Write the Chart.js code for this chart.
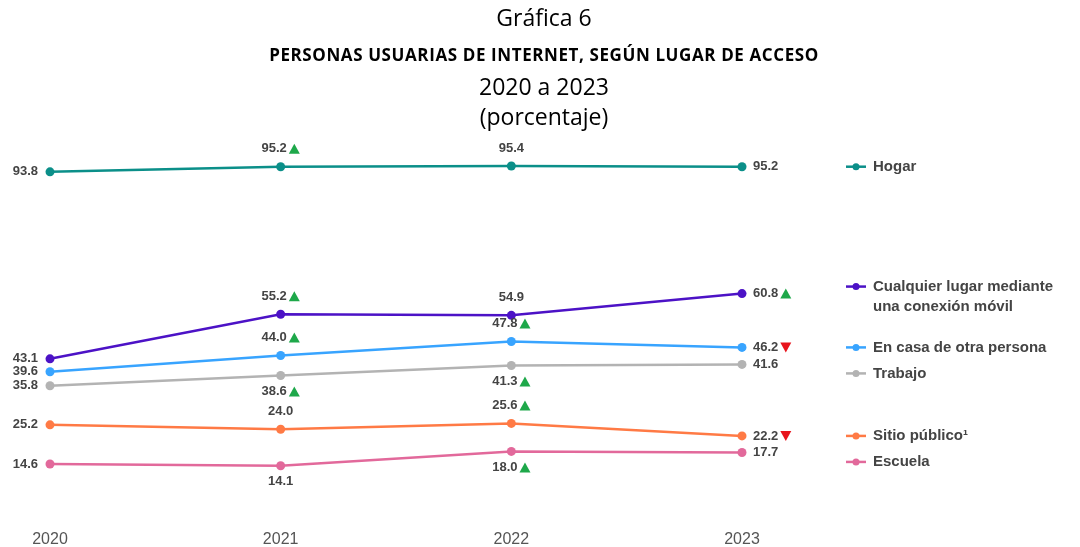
<!DOCTYPE html>
<html>
<head>
<meta charset="utf-8">
<script src="https://cdn.jsdelivr.net/npm/chart.js@4.4.0/dist/chart.umd.min.js"></script>
<style>
  body { margin: 0; background: #fff; }
  #wrap { position: relative; width: 1080px; height: 547px; overflow: hidden; }
  canvas { position: absolute; left: 0; top: 0; }
  .t { position: absolute; left: 0; width: 1088px; text-align: center; color: #000;
       font-family: "Open Sans", Lato, sans-serif; line-height: 1; white-space: nowrap; }
</style>
</head>
<body>
<div id="wrap">
  <canvas id="chart" width="1080" height="561"></canvas>
  <div class="t" style="top:6px;font-size:23px;">Gráfica 6</div>
  <div class="t" style="top:46px;font-size:17px;font-weight:bold;letter-spacing:0.6px;">PERSONAS USUARIAS DE INTERNET, SEGÚN LUGAR DE ACCESO</div>
  <div class="t" style="top:75px;font-size:23px;">2020 a 2023</div>
  <div class="t" style="top:105px;font-size:23px;">(porcentaje)</div>
</div>
<script>
const years = ["2020", "2021", "2022", "2023"];
const seriesNames = [
  "Hogar",
  ["Cualquier lugar mediante", "una conexión móvil"],
  "En casa de otra persona",
  "Trabajo",
  "Sitio público¹",
  "Escuela",
];
const hogar = [93.8, 95.2, 95.4, 95.2];
const movil = [43.1, 55.2, 54.9, 60.8];
const otraCasa = [39.6, 44.0, 47.8, 46.2];
const trabajo = [35.8, 38.6, 41.3, 41.6];
const sitioPublico = [25.2, 24.0, 25.6, 22.2];
const escuela = [14.6, 14.1, 18.0, 17.7];
// change vs previous year: up / down / none
const trends = [
  ["", "up", "", ""],
  ["", "up", "", "up"],
  ["", "up", "up", "down"],
  ["", "up", "up", ""],
  ["", "", "up", "down"],
  ["", "", "up", ""],
];
// where each value label goes
const labelSides = [
  ["left", "above", "above", "right"],
  ["left", "above", "above", "right"],
  ["left", "above", "above", "right"],
  ["left", "below", "below", "right"],
  ["left", "above", "above", "right"],
  ["left", "below", "below", "right"],
];

const colors = ["#0b8f89", "#4c12c6", "#38a4ff", "#b3b3b3", "#ff7a45", "#e2699b"];
const allData = [hogar, movil, otraCasa, trabajo, sitioPublico, escuela];

const labelFont = 'bold 13px "Liberation Sans", Arial, sans-serif';
const legendFont = 'bold 15px "Liberation Sans", Arial, sans-serif';

function drawTri(ctx, x, y, dir) {
  ctx.beginPath();
  if (dir === "up") {
    ctx.fillStyle = "#1ea84a";
    ctx.moveTo(x, y + 5);
    ctx.lineTo(x + 11, y + 5);
    ctx.lineTo(x + 5.5, y - 5);
  } else {
    ctx.fillStyle = "#e8141c";
    ctx.moveTo(x, y - 5);
    ctx.lineTo(x + 11, y - 5);
    ctx.lineTo(x + 5.5, y + 5);
  }
  ctx.closePath();
  ctx.fill();
}

const valueLabels = {
  id: "valueLabels",
  afterDatasetsDraw(chart) {
    const ctx = chart.ctx;
    ctx.save();
    ctx.font = labelFont;
    ctx.textBaseline = "middle";
    chart.data.datasets.forEach((ds, i) => {
      chart.getDatasetMeta(i).data.forEach((pt, j) => {
        const txt = ds.data[j].toFixed(1);
        const mark = trends[i][j];
        const side = labelSides[i][j];
        const w = ctx.measureText(txt).width;
        const full = w + (mark ? 13 : 0);
        let x, y;
        if (side === "left") {
          x = pt.x - 12 - full;
          y = pt.y;
        } else if (side === "right") {
          x = pt.x + 11;
          y = pt.y;
        } else {
          x = pt.x - full / 2;
          y = side === "above" ? pt.y - 18 : pt.y + 16;
        }
        ctx.fillStyle = "#444";
        ctx.textAlign = "left";
        ctx.fillText(txt, x, y);
        if (mark) drawTri(ctx, x + w + 2, y, mark);
      });
    });
    ctx.restore();
  },
};

const sideLegend = {
  id: "sideLegend",
  afterDraw(chart) {
    const ctx = chart.ctx;
    const yScale = chart.scales.y;
    ctx.save();
    ctx.font = legendFont;
    ctx.textBaseline = "middle";
    let nextMin = -Infinity;
    seriesNames.forEach((name, i) => {
      const lines = Array.isArray(name) ? name : [name];
      const last = allData[i][allData[i].length - 1];
      let y = yScale.getPixelForValue(last) - (lines.length > 1 ? 7 : 0);
      y = Math.max(y, nextMin);
      const lx = 846;
      ctx.strokeStyle = colors[i];
      ctx.lineWidth = 2.5;
      ctx.beginPath();
      ctx.moveTo(lx, y);
      ctx.lineTo(lx + 20, y);
      ctx.stroke();
      ctx.fillStyle = colors[i];
      ctx.beginPath();
      ctx.arc(lx + 10, y, 3.5, 0, Math.PI * 2);
      ctx.fill();
      ctx.fillStyle = "#444";
      lines.forEach((ln, k) => ctx.fillText(ln, 873, y + k * 20));
      nextMin = y + (lines.length - 1) * 20 + 26;
    });
    ctx.restore();
  },
};

new Chart(document.getElementById("chart"), {
  type: "line",
  data: {
    labels: years,
    datasets: allData.map((d, i) => ({
      label: Array.isArray(seriesNames[i]) ? seriesNames[i].join(" ") : seriesNames[i],
      data: d,
      borderColor: colors[i],
      backgroundColor: colors[i],
      borderWidth: 2.5,
      pointRadius: 4.5,
      pointBorderWidth: 0,
      tension: 0,
      clip: false,
    })),
  },
  options: {
    responsive: false,
    animation: false,
    layout: { padding: { top: 149, left: 50, right: 338, bottom: 0 } },
    plugins: { legend: { display: false }, tooltip: { enabled: false }, title: { display: false } },
    scales: {
      x: {
        offset: false,
        grid: { display: false, drawTicks: false },
        border: { display: false },
        ticks: {
          color: "#555",
          padding: 12,
          font: { family: '"Liberation Sans", Arial, sans-serif', size: 16 },
        },
      },
      y: { display: false, min: 0, max: 100 },
    },
  },
  plugins: [valueLabels, sideLegend],
});
</script>
</body>
</html>
